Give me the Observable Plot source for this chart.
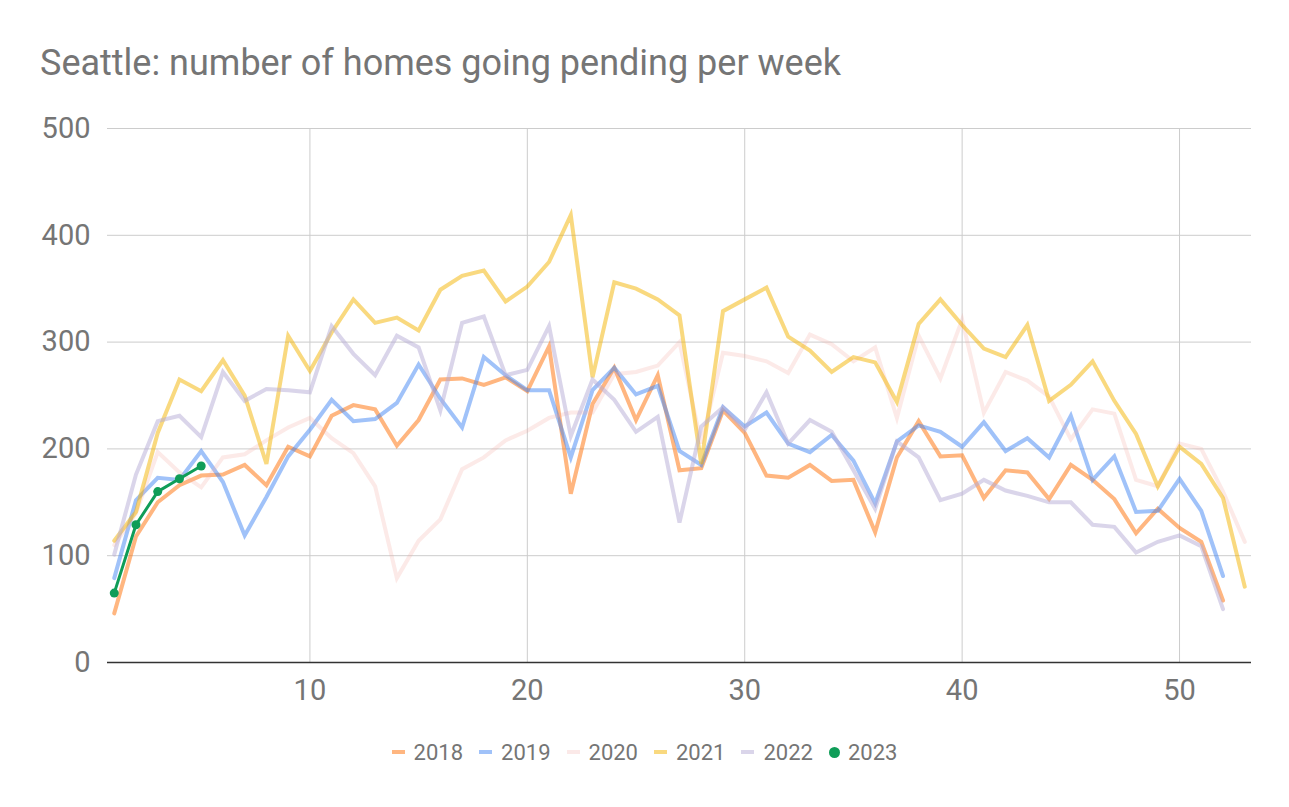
<!DOCTYPE html>
<html>
<head>
<meta charset="utf-8">
<script src="https://cdn.jsdelivr.net/npm/d3@7"></script>
<script src="https://cdn.jsdelivr.net/npm/@observablehq/plot@0.6"></script>
<style>
  html, body { margin: 0; padding: 0; background: #fff; }
  body { width: 1289px; height: 807px; position: relative; overflow: hidden; font-family: Roboto, "Noto Sans", sans-serif; }
  #title { position: absolute; left: 40px; top: 39px; font-size: 36px; line-height: 48px; color: #757575; white-space: nowrap; }
  #chart { position: absolute; left: 0; top: 100px; }
  #legend { position: absolute; left: 0; width: 1289px; top: 736px; height: 32px; display: flex; justify-content: center; align-items: center; font-size: 22px; color: #757575; }
  .item { display: flex; align-items: center; margin: 0 8px; }
  .sw { width: 13px; height: 4px; margin-right: 9px; }
  .dot { width: 11px; height: 11px; border-radius: 50%; margin-right: 8px; }
</style>
</head>
<body>
<div id="title">Seattle: number of homes going pending per week</div>
<div id="chart"></div>
<div id="legend"></div>
<script>
const weeks = [1,2,3,4,5,6,7,8,9,10,11,12,13,14,15,16,17,18,19,20,21,22,23,24,25,26,27,28,29,30,31,32,33,34,35,36,37,38,39,40,41,42,43,44,45,46,47,48,49,50,51,52,53];
const years = ["2018","2019","2020","2021","2022","2023"];
const y2018 = [46,118,150,166,175,176,185,166,202,193, 231,241,237,203,227,265,266,260,267,254, 296,158,242,276,227,269,180,182,236,215, 175,173,185,170,171,122,192,226,193,194, 154,180,178,153,185,171,153,121,144,126, 113,58];
const y2019 = [79,152,173,171,198,169,119,155,193,218, 246,226,228,243,279,247,220,286,269,255, 255,192,255,276,251,259,198,185,239,221, 234,205,197,213,189,149,207,222,216,202, 225,198,210,192,231,171,193,141,142,172, 142,81];
const y2020 = [110,140,197,178,164,192,195,208,220,229, 210,196,165,79,114,134,181,192,208,217, 229,234,234,270,272,278,300,205,290,287, 282,271,307,298,282,295,229,306,266,321, 234,272,264,249,209,237,233,171,165,205, 200,160,113];
const y2021 = [114,141,215,265,254,283,250,186,306,273, 309,340,318,323,311,349,362,367,338,352, 375,419,267,356,350,340,325,186,329,340, 351,305,292,272,286,281,244,317,340,316, 294,286,316,245,260,282,245,214,165,202, 186,154,71];
const y2022 = [101,176,226,231,211,272,245,256,255,253, 315,289,269,306,295,236,318,324,269,274, 315,212,265,246,216,230,131,221,239,218, 253,205,227,216,180,144,207,192,152,158, 171,161,156,150,150,129,127,103,113,119, 109,50];
const y2023 = [65,129,160,172,184];
const xTicks = [10,20,30,40,50];
const yTicks = [0,100,200,300,400,500];

const seriesValues = [y2018, y2019, y2020, y2021, y2022, y2023];
const colors = ["#FF6D01", "#4285F4", "#F2AAA5", "#F4B400", "#B5ABD5", "#0F9D58"];
const opacities = [0.5, 0.5, 0.25, 0.5, 0.5, 1];
const legendColors = ["#FFB680", "#A0C2F9", "#FBE9E8", "#F9D97F", "#DAD5EA", "#0F9D58"];

const data = [];
years.forEach((yr, i) => {
  seriesValues[i].forEach((v, j) => data.push({year: yr, week: weeks[j], value: v}));
});

const lineMarks = years.slice(0, 5).map((yr, i) =>
  Plot.line(data.filter(d => d.year === yr), {x: "week", y: "value", stroke: colors[i], strokeOpacity: opacities[i], strokeWidth: 4, strokeLinejoin: "miter", strokeMiterlimit: 4})
);
const d2023 = data.filter(d => d.year === "2023");

const chart = Plot.plot({
  width: 1289,
  height: 620,
  marginLeft: 107,
  marginRight: 38,
  marginTop: 28,
  marginBottom: 58,
  style: {fontFamily: "Roboto, sans-serif", fontSize: "29px", color: "#757575", background: "transparent"},
  x: {domain: [0.69, 53.31], ticks: xTicks, tickSize: 0, tickPadding: 17, label: null, tickFormat: d => String(d)},
  y: {domain: [0, 500], ticks: yTicks, tickSize: 0, tickPadding: 17, label: null, tickFormat: d => String(d)},
  marks: [
    Plot.ruleY(yTicks.filter(t => t > 0), {stroke: "#cccccc", strokeWidth: 1}),
    Plot.ruleX(xTicks, {stroke: "#cccccc", strokeWidth: 1}),
    ...lineMarks,
    Plot.line(d2023, {x: "week", y: "value", stroke: colors[5], strokeWidth: 3}),
    Plot.dot(d2023, {x: "week", y: "value", fill: colors[5], r: 4.5}),
    Plot.ruleY([0], {stroke: "#333333", strokeWidth: 1.5})
  ]
});
document.getElementById("chart").appendChild(chart);

const legend = document.getElementById("legend");
years.forEach((yr, i) => {
  const item = document.createElement("div");
  item.className = "item";
  const sw = document.createElement("div");
  sw.className = i === 5 ? "dot" : "sw";
  sw.style.background = legendColors[i];
  const lab = document.createElement("span");
  lab.textContent = yr;
  item.appendChild(sw);
  item.appendChild(lab);
  legend.appendChild(item);
});
</script>
</body>
</html>
